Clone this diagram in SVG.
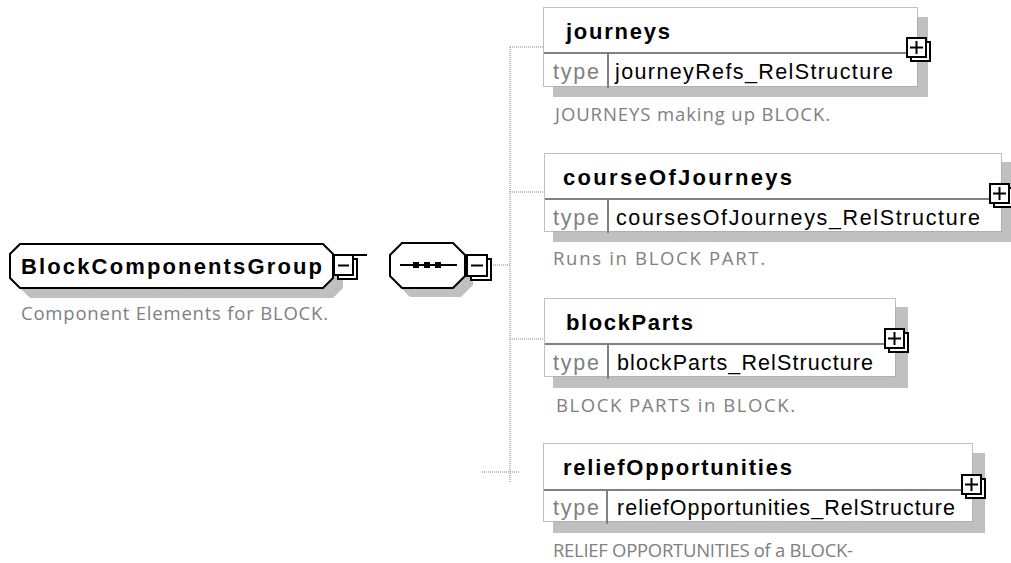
<svg xmlns="http://www.w3.org/2000/svg" width="1011" height="563" viewBox="0 0 1011 563">
<style>
.bg{fill:#ffffff}
.shadow{fill:#c0c0c0;stroke:none}
.oct{fill:#ffffff;stroke:#000000;stroke-width:2}
.box{fill:#ffffff;stroke:#808080;stroke-width:1;stroke-dasharray:1 1}
.sep{stroke:#808080;stroke-width:2;fill:none}
.div{stroke:#808080;stroke-width:2;fill:none}
.conn{stroke:#808080;stroke-width:1;stroke-dasharray:1 1;fill:none}
.btnb{fill:#ffffff;stroke:#000000;stroke-width:2}
.btnf{fill:#ffffff;stroke:#000000;stroke-width:2}
.sign{stroke:#000000;stroke-width:2;fill:none}
.title{font-family:"Liberation Sans",Arial,sans-serif;font-weight:bold;font-size:22px;fill:#000000}
.tlab{font-family:"Liberation Sans",Arial,sans-serif;font-size:21.5px;fill:#808080}
.tval{font-family:"Liberation Sans",Arial,sans-serif;font-size:21.5px;fill:#000000}
.desc{font-family:"Open Sans","DejaVu Sans",sans-serif;font-size:18.5px;fill:#808080}
</style>
<rect class="bg" x="0" y="0" width="1011" height="563"/>

<g id="connectors">
  <line class="conn" x1="491" y1="265" x2="510" y2="265"/>
  <line class="conn" x1="510" y1="47" x2="510" y2="483"/>
  <line class="conn" x1="510" y1="47" x2="543" y2="47"/>
  <line class="conn" x1="510" y1="192" x2="544" y2="192"/>
  <line class="conn" x1="510" y1="339" x2="544" y2="339"/>
  <line class="conn" x1="482" y1="472" x2="520" y2="472"/>
</g>

<g id="BlockComponentsGroup">
  <polygon class="shadow" points="30,254 333,254 343,264 343,288 333,298 30,298 20,288 20,264"/>
  <polygon class="oct" points="20,244 323,244 333,254 333,278 323,288 20,288 10,278 10,254"/>
  <text class="title" x="21" y="274" textLength="301" lengthAdjust="spacing">BlockComponentsGroup</text>
  <line class="sign" x1="354" y1="255" x2="367" y2="255" stroke-width="1.5"/>
  <rect class="btnb" x="338" y="259" width="19" height="20"/>
  <rect class="btnf" x="334" y="255" width="19" height="20"/>
  <line class="sign" x1="338" y1="265.5" x2="349" y2="265.5"/>
  <text class="desc" x="21" y="320" textLength="307" lengthAdjust="spacing">Component Elements for BLOCK.</text>
</g>

<g id="sequence">
  <polygon class="shadow" points="410,252 461,252 473,264 473,285 461,297 410,297 398,285 398,264"/>
  <polygon class="oct" points="402,243 453,243 465,255 465,276 453,288 402,288 390,276 390,255"/>
  <line x1="400" y1="265" x2="457" y2="265" stroke="#000000" stroke-width="2"/>
  <rect x="413" y="262" width="6" height="6" fill="#000000"/>
  <rect x="424" y="262" width="6" height="6" fill="#000000"/>
  <rect x="435" y="262" width="6" height="6" fill="#000000"/>
  <rect class="btnb" x="471" y="259" width="20" height="21"/>
  <rect class="btnf" x="467" y="255" width="20" height="21"/>
  <line class="sign" x1="471" y1="265.5" x2="483" y2="265.5"/>
</g>

<g id="journeys">
  <rect class="shadow" x="553" y="17" width="375" height="80"/>
  <rect class="box" x="543.5" y="7.5" width="374" height="79"/>
  <line class="sep" x1="544" y1="53" x2="918" y2="53"/>
  <line class="div" x1="608" y1="53" x2="608" y2="88"/>
  <text class="title" x="566" y="39" textLength="104" lengthAdjust="spacing">journeys</text>
  <text class="tlab" x="553" y="79" textLength="46" lengthAdjust="spacing">type</text>
  <text class="tval" x="615" y="79" textLength="278" lengthAdjust="spacing">journeyRefs_RelStructure</text>
  <rect class="btnb" x="911" y="42" width="19" height="19"/>
  <rect class="btnf" x="907" y="38" width="19" height="19"/>
  <line class="sign" x1="910" y1="47.5" x2="923" y2="47.5"/>
  <line class="sign" x1="916.5" y1="41" x2="916.5" y2="54"/>
  <text class="desc" x="555" y="121" textLength="275" lengthAdjust="spacing">JOURNEYS making up BLOCK.</text>
</g>

<g id="courseOfJourneys">
  <rect class="shadow" x="553" y="162" width="458" height="80"/>
  <rect class="box" x="544.5" y="153.5" width="457" height="78"/>
  <line class="sep" x1="545" y1="199" x2="1002" y2="199"/>
  <line class="div" x1="608" y1="199" x2="608" y2="233"/>
  <text class="title" x="563" y="185" textLength="229" lengthAdjust="spacing">courseOfJourneys</text>
  <text class="tlab" x="553" y="225" textLength="46" lengthAdjust="spacing">type</text>
  <text class="tval" x="616" y="225" textLength="364" lengthAdjust="spacing">coursesOfJourneys_RelStructure</text>
  <rect class="btnb" x="994" y="188" width="19" height="19"/>
  <rect class="btnf" x="990" y="184" width="19" height="19"/>
  <line class="sign" x1="993" y1="193.5" x2="1006" y2="193.5"/>
  <line class="sign" x1="999.5" y1="187" x2="999.5" y2="200"/>
  <text class="desc" x="553" y="265" textLength="212" lengthAdjust="spacing">Runs in BLOCK PART.</text>
</g>

<g id="blockParts">
  <rect class="shadow" x="553" y="307" width="355" height="81"/>
  <rect class="box" x="544.5" y="298.5" width="351" height="78"/>
  <line class="sep" x1="545" y1="344" x2="896" y2="344"/>
  <line class="div" x1="608" y1="344" x2="608" y2="379"/>
  <text class="title" x="566" y="330" textLength="127" lengthAdjust="spacing">blockParts</text>
  <text class="tlab" x="553" y="370" textLength="46" lengthAdjust="spacing">type</text>
  <text class="tval" x="617" y="370" textLength="256" lengthAdjust="spacing">blockParts_RelStructure</text>
  <rect class="btnb" x="889" y="333" width="19" height="19"/>
  <rect class="btnf" x="885" y="329" width="19" height="19"/>
  <line class="sign" x1="888" y1="338.5" x2="901" y2="338.5"/>
  <line class="sign" x1="894.5" y1="332" x2="894.5" y2="345"/>
  <text class="desc" x="556" y="412" textLength="239" lengthAdjust="spacing">BLOCK PARTS in BLOCK.</text>
</g>

<g id="reliefOpportunities">
  <rect class="shadow" x="553" y="453" width="432" height="80"/>
  <rect class="box" x="543.5" y="443.5" width="429" height="78"/>
  <line class="sep" x1="544" y1="490" x2="973" y2="490"/>
  <line class="div" x1="607" y1="490" x2="607" y2="524"/>
  <text class="title" x="563" y="475" textLength="229" lengthAdjust="spacing">reliefOpportunities</text>
  <text class="tlab" x="553" y="515" textLength="46" lengthAdjust="spacing">type</text>
  <text class="tval" x="617" y="515" textLength="338" lengthAdjust="spacing">reliefOpportunities_RelStructure</text>
  <rect class="btnb" x="966" y="479" width="19" height="19"/>
  <rect class="btnf" x="962" y="475" width="19" height="19"/>
  <line class="sign" x1="965" y1="484.5" x2="978" y2="484.5"/>
  <line class="sign" x1="971.5" y1="478" x2="971.5" y2="491"/>
  <text class="desc" x="553" y="557" textLength="300" lengthAdjust="spacing">RELIEF OPPORTUNITIES of a BLOCK-</text>
</g>
</svg>
